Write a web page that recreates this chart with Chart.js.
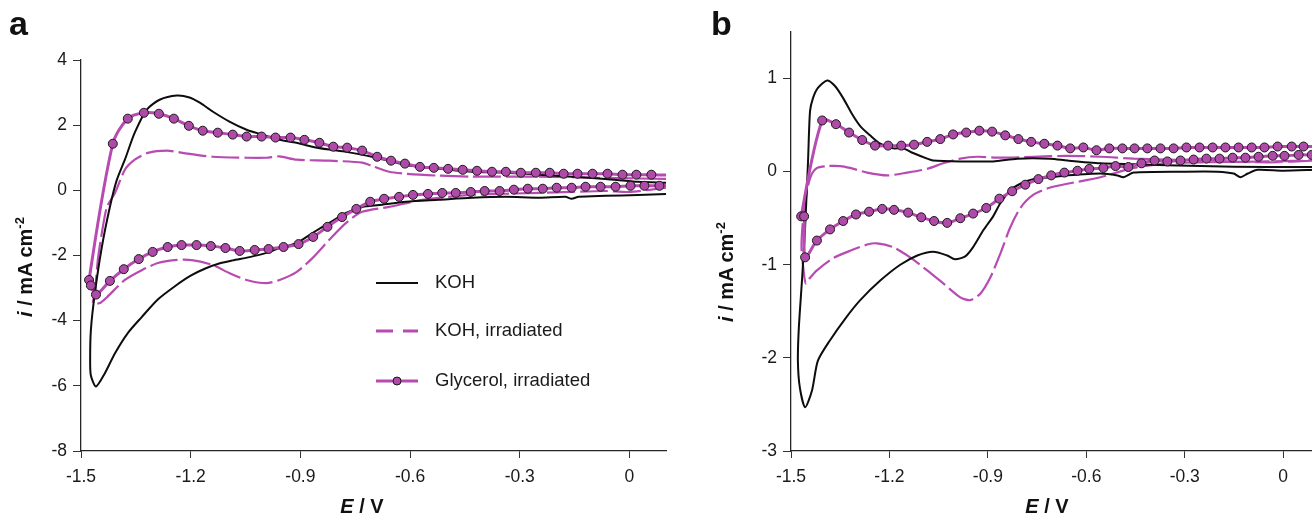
<!DOCTYPE html>
<html>
<head>
<meta charset="utf-8">
<title>Cyclic voltammograms</title>
<script src="https://cdn.jsdelivr.net/npm/chart.js@4.4.1/dist/chart.umd.min.js"></script>
<style>
    html, body { margin: 0; padding: 0; background: #fff; overflow: hidden; }
    body { width: 1312px; height: 515px; position: relative; font-family: "Liberation Sans", Arial, sans-serif; color: #111; }
    .panel { position: absolute; top: 0; height: 515px; }
    #wrapA { left: 0; width: 690px; }
    #wrapB { left: 700px; width: 640px; }
    .tag { position: absolute; font-weight: bold; font-size: 34px; line-height: 1; }
    .ytitle, .xtitle { position: absolute; font-weight: bold; font-size: 20px; line-height: 1; white-space: nowrap; }
    .ytitle { transform: translate(-50%, -50%) rotate(-90deg); }
    .xtitle { transform: translate(-50%, -50%); }
    sup { font-size: 13px; line-height: 0; vertical-align: 8px; }
</style>
</head>
<body>
<div class="panel" id="wrapA"><canvas id="chartA" width="690" height="515"></canvas></div>
<div class="panel" id="wrapB"><canvas id="chartB" width="640" height="515"></canvas></div>

<div class="tag" style="left:9px; top:6px;">a</div>
<div class="tag" style="left:711px; top:6px;">b</div>
<div class="ytitle" style="left:25px; top:267px;"><i>i</i> / mA cm<sup>-2</sup></div>
<div class="ytitle" style="left:726px; top:272px;"><i>i</i> / mA cm<sup>-2</sup></div>
<div class="xtitle" style="left:362px; top:506px;"><i>E</i> / V</div>
<div class="xtitle" style="left:1047px; top:506px;"><i>E</i> / V</div>

<script>
// CV curves, [E (V), i (mA cm-2)] in sweep order

// panel a
const kohA = [
    [0.1, 0.23], [0.024, 0.26], [-0.066, 0.35], [-0.158, 0.42], [-0.248, 0.48], [-0.338, 0.54],
    [-0.431, 0.57], [-0.521, 0.66], [-0.611, 0.78], [-0.704, 1.03], [-0.775, 1.18], [-0.821, 1.25],
    [-0.867, 1.34], [-0.911, 1.46], [-0.957, 1.55], [-1.004, 1.71], [-1.047, 1.86], [-1.094, 2.11],
    [-1.140, 2.42], [-1.175, 2.69], [-1.203, 2.85], [-1.238, 2.91], [-1.285, 2.78], [-1.320, 2.48],
    [-1.353, 1.77], [-1.380, 0.94], [-1.402, 0.32], [-1.421, -0.51], [-1.443, -1.74], [-1.462, -3.15],
    [-1.473, -4.29], [-1.475, -5.22], [-1.473, -5.68], [-1.459, -6.02], [-1.435, -5.62], [-1.407, -5.00],
    [-1.372, -4.38], [-1.334, -3.89], [-1.290, -3.35], [-1.244, -2.95], [-1.200, -2.62], [-1.160, -2.40],
    [-1.120, -2.24], [-1.085, -2.15], [-1.039, -2.05], [-0.993, -1.92], [-0.957, -1.77], [-0.911, -1.62],
    [-0.867, -1.31], [-0.821, -1.00], [-0.775, -0.69], [-0.731, -0.51], [-0.685, -0.45], [-0.611, -0.35],
    [-0.521, -0.29], [-0.431, -0.23], [-0.338, -0.20], [-0.248, -0.23], [-0.175, -0.20], [-0.158, -0.26],
    [-0.139, -0.20], [-0.066, -0.17], [0.024, -0.14], [0.1, -0.11]
];
const kohIrrA = [
    [0.1, 0.35], [-0.066, 0.38], [-0.248, 0.42], [-0.431, 0.42], [-0.521, 0.45], [-0.611, 0.51],
    [-0.657, 0.57], [-0.704, 0.75], [-0.731, 0.85], [-0.821, 0.91], [-0.911, 0.94], [-0.957, 1.04],
    [-0.993, 1.00], [-1.047, 1.00], [-1.140, 1.03], [-1.222, 1.15], [-1.265, 1.22], [-1.317, 1.15],
    [-1.353, 0.94], [-1.380, 0.63], [-1.407, -0.08], [-1.429, -0.51], [-1.443, -1.31], [-1.454, -2.14],
    [-1.462, -3.15], [-1.467, -3.46], [-1.448, -3.46], [-1.429, -3.28], [-1.380, -2.75], [-1.334, -2.45],
    [-1.290, -2.23], [-1.244, -2.14], [-1.197, -2.14], [-1.140, -2.29], [-1.094, -2.54], [-1.047, -2.75],
    [-0.993, -2.85], [-0.957, -2.75], [-0.911, -2.51], [-0.867, -2.08], [-0.821, -1.52], [-0.775, -1.00],
    [-0.731, -0.66], [-0.657, -0.51], [-0.567, -0.29], [-0.431, -0.14], [-0.248, -0.08], [-0.066, -0.02],
    [-0.003, -0.05], [0.1, 0.08]
];
const glyA = [
    [0.1, 0.47],
    [0.060, 0.48], [0.019, 0.48], [-0.019, 0.48], [-0.060, 0.51], [-0.101, 0.51], [-0.142, 0.51],
    [-0.180, 0.51], [-0.218, 0.54], [-0.256, 0.54], [-0.297, 0.54], [-0.338, 0.57], [-0.376, 0.57],
    [-0.417, 0.60], [-0.456, 0.63], [-0.496, 0.66], [-0.535, 0.69], [-0.573, 0.72], [-0.614, 0.82],
    [-0.652, 0.91], [-0.690, 1.03], [-0.731, 1.22], [-0.772, 1.31], [-0.810, 1.34], [-0.848, 1.46],
    [-0.889, 1.55], [-0.927, 1.62], [-0.968, 1.62], [-1.006, 1.65], [-1.047, 1.65], [-1.085, 1.71],
    [-1.126, 1.77], [-1.167, 1.83], [-1.205, 1.98], [-1.246, 2.20], [-1.287, 2.35], [-1.328, 2.38],
    [-1.372, 2.20], [-1.413, 1.43],
    [-1.478, -2.75], [-1.473, -2.92], [-1.459, -3.20],
    [-1.421, -2.78], [-1.383, -2.42], [-1.342, -2.11], [-1.304, -1.89], [-1.263, -1.74], [-1.225, -1.68],
    [-1.184, -1.68], [-1.145, -1.71], [-1.105, -1.77], [-1.066, -1.86], [-1.025, -1.83], [-0.987, -1.80],
    [-0.946, -1.74], [-0.905, -1.65], [-0.865, -1.43], [-0.826, -1.12], [-0.786, -0.82], [-0.747, -0.57],
    [-0.709, -0.35], [-0.671, -0.26], [-0.630, -0.20], [-0.592, -0.14], [-0.551, -0.11], [-0.512, -0.08],
    [-0.475, -0.08], [-0.434, -0.05], [-0.396, -0.02], [-0.355, -0.02], [-0.316, 0.02], [-0.278, 0.05],
    [-0.237, 0.05], [-0.199, 0.08], [-0.158, 0.08], [-0.120, 0.11], [-0.079, 0.11], [-0.038, 0.11],
    [0.003, 0.14], [0.041, 0.14], [0.082, 0.14],
    [0.1, 0.15]
];

// panel b
const kohB = [
    [0.1, 0.05], [-0.047, 0.05], [-0.252, 0.06], [-0.456, 0.08], [-0.557, 0.09], [-0.658, 0.12],
    [-0.710, 0.14], [-0.810, 0.14], [-0.884, 0.11], [-0.984, 0.11], [-1.067, 0.12], [-1.085, 0.14],
    [-1.128, 0.20], [-1.158, 0.25], [-1.189, 0.25], [-1.228, 0.30], [-1.259, 0.39], [-1.289, 0.49],
    [-1.314, 0.62], [-1.341, 0.79], [-1.366, 0.92], [-1.390, 0.98], [-1.418, 0.90], [-1.433, 0.79],
    [-1.442, 0.65], [-1.448, 0.12], [-1.457, -0.60], [-1.466, -1.14], [-1.476, -1.67], [-1.479, -2.03],
    [-1.473, -2.32], [-1.457, -2.53], [-1.436, -2.35], [-1.418, -2.03], [-1.381, -1.81], [-1.335, -1.58],
    [-1.289, -1.38], [-1.228, -1.17], [-1.167, -1.00], [-1.115, -0.90], [-1.067, -0.86], [-1.024, -0.90],
    [-1.000, -0.94], [-0.969, -0.91], [-0.945, -0.81], [-0.914, -0.63], [-0.902, -0.57], [-0.884, -0.48],
    [-0.862, -0.34], [-0.832, -0.20], [-0.801, -0.13], [-0.762, -0.08], [-0.710, -0.06], [-0.658, -0.04],
    [-0.557, -0.02], [-0.505, -0.04], [-0.487, -0.06], [-0.456, -0.01], [-0.304, 0.00], [-0.200, 0.00],
    [-0.151, -0.02], [-0.130, -0.06], [-0.108, -0.02], [-0.078, 0.02], [0.000, 0.01], [0.1, 0.02]
];
const kohIrrB = [
    [0.1, 0.12], [-0.047, 0.10], [-0.252, 0.12], [-0.353, 0.13], [-0.456, 0.14], [-0.557, 0.16],
    [-0.658, 0.17], [-0.762, 0.16], [-0.862, 0.15], [-0.932, 0.16], [-0.984, 0.14], [-1.036, 0.09],
    [-1.085, 0.03], [-1.146, -0.01], [-1.207, -0.04], [-1.268, -0.01], [-1.320, 0.04], [-1.350, 0.06],
    [-1.390, 0.06], [-1.421, 0.04], [-1.436, -0.02], [-1.448, -0.15], [-1.462, -0.47], [-1.468, -0.80],
    [-1.462, -1.05], [-1.455, -1.20], [-1.442, -1.14], [-1.421, -1.06], [-1.372, -0.93], [-1.320, -0.85],
    [-1.265, -0.78], [-1.238, -0.77], [-1.189, -0.81], [-1.137, -0.92], [-1.085, -1.06], [-1.036, -1.20],
    [-0.984, -1.35], [-0.954, -1.38], [-0.923, -1.31], [-0.893, -1.14], [-0.862, -0.88], [-0.832, -0.60],
    [-0.801, -0.39], [-0.762, -0.25], [-0.710, -0.17], [-0.658, -0.13], [-0.557, -0.06], [-0.456, 0.04],
    [-0.353, 0.09], [-0.252, 0.10], [-0.047, 0.11], [0.1, 0.12]
];
const glyB = [
    [0.1, 0.27],
    [0.062, 0.27], [0.026, 0.27], [-0.017, 0.27], [-0.057, 0.26], [-0.096, 0.26], [-0.136, 0.26],
    [-0.176, 0.26], [-0.215, 0.26], [-0.255, 0.26], [-0.295, 0.26], [-0.334, 0.25], [-0.374, 0.25],
    [-0.414, 0.25], [-0.453, 0.25], [-0.490, 0.25], [-0.530, 0.25], [-0.569, 0.23], [-0.609, 0.26],
    [-0.649, 0.25], [-0.688, 0.28], [-0.728, 0.30], [-0.768, 0.32], [-0.807, 0.35], [-0.847, 0.39],
    [-0.887, 0.43], [-0.926, 0.44], [-0.966, 0.42], [-1.006, 0.40], [-1.045, 0.35], [-1.085, 0.32],
    [-1.125, 0.29], [-1.164, 0.28], [-1.204, 0.28], [-1.244, 0.28], [-1.283, 0.34], [-1.323, 0.42],
    [-1.363, 0.51], [-1.405, 0.55],
    [-1.469, -0.48], [-1.460, -0.48], [-1.457, -0.92],
    [-1.421, -0.74], [-1.381, -0.62], [-1.341, -0.53], [-1.302, -0.46], [-1.262, -0.43], [-1.222, -0.40],
    [-1.186, -0.41], [-1.143, -0.44], [-1.103, -0.49], [-1.064, -0.53], [-1.024, -0.55], [-0.984, -0.50],
    [-0.945, -0.45], [-0.905, -0.39], [-0.865, -0.29], [-0.826, -0.21], [-0.786, -0.14], [-0.746, -0.08],
    [-0.707, -0.04], [-0.667, -0.01], [-0.627, 0.01], [-0.591, 0.03], [-0.548, 0.04], [-0.511, 0.06],
    [-0.472, 0.05], [-0.432, 0.09], [-0.392, 0.12], [-0.353, 0.11], [-0.313, 0.12], [-0.273, 0.13],
    [-0.234, 0.14], [-0.194, 0.14], [-0.154, 0.15], [-0.115, 0.15], [-0.075, 0.16], [-0.032, 0.17],
    [0.004, 0.17], [0.047, 0.18], [0.087, 0.18],
    [0.1, 0.18]
];

// axes
const xTicks = [-1.5, -1.2, -0.9, -0.6, -0.3, 0];
const yTicksA = [-8, -6, -4, -2, 0, 2, 4];
const yTicksB = [-3, -2, -1, 0, 1];
const legendLabels = ['KOH', 'KOH, irradiated', 'Glycerol, irradiated'];

const MAGENTA = '#b84bb2';
const MARKER_FILL = '#b04aa8';
const FONT = '"Liberation Sans", Arial, sans-serif';

function toXY(pairs) {
    return pairs.map(p => ({ x: p[0], y: p[1] }));
}

function makeDatasets(koh, kohIrr, gly) {
    return [
        {
            label: legendLabels[2],
            data: toXY(gly),
            showLine: true,
            borderColor: MAGENTA,
            borderWidth: 3,
            tension: 0.3,
            pointRadius: c => (c.dataIndex === 0 || c.dataIndex === gly.length - 1) ? 0 : 4.5,
            pointBackgroundColor: MARKER_FILL,
            pointBorderColor: '#1a1a1a',
            pointBorderWidth: 1
        },
        {
            label: legendLabels[0],
            data: toXY(koh),
            showLine: true,
            borderColor: '#0d0d0d',
            borderWidth: 2,
            tension: 0.25,
            pointRadius: 0
        },
        {
            label: legendLabels[1],
            data: toXY(kohIrr),
            showLine: true,
            borderColor: MAGENTA,
            borderWidth: 2.2,
            borderDash: [28, 5],
            tension: 0.25,
            pointRadius: 0
        }
    ];
}

function makeOptions(ymin, ymax, yTicks, yAxisWidth, padding) {
    const tickFont = { family: FONT, size: 17.5 };
    return {
        responsive: false,
        devicePixelRatio: 1,
        animation: false,
        events: [],
        layout: { padding: padding },
        plugins: { legend: { display: false }, tooltip: { enabled: false } },
        scales: {
            x: {
                type: 'linear',
                min: -1.5,
                max: 0.1,
                afterBuildTicks: s => { s.ticks = xTicks.map(v => ({ value: v })); },
                afterFit: s => { s.height = 64; },
                grid: { drawOnChartArea: false, drawTicks: true, tickLength: 7, tickColor: '#333', tickWidth: 1 },
                border: { display: true, color: '#262626', width: 1.3 },
                ticks: {
                    color: '#1a1a1a', font: tickFont, padding: 9, maxRotation: 0, autoSkip: false,
                    callback: v => String(Math.round(v * 10) / 10)
                }
            },
            y: {
                type: 'linear',
                min: ymin,
                max: ymax,
                afterBuildTicks: s => { s.ticks = yTicks.map(v => ({ value: v })); },
                afterFit: s => { s.width = yAxisWidth; },
                grid: { drawOnChartArea: false, drawTicks: true, tickLength: 8, tickColor: '#333', tickWidth: 1 },
                border: { display: true, color: '#262626', width: 1.3 },
                ticks: {
                    color: '#1a1a1a', font: tickFont, padding: 6, autoSkip: false,
                    callback: v => String(v)
                }
            }
        }
    };
}

// legend drawn inside panel a
const cvLegend = {
    id: 'cvLegend',
    afterDraw(chart) {
        const ctx = chart.ctx;
        const rows = [283, 331, 381];
        ctx.save();
        ctx.lineCap = 'butt';
        // KOH
        ctx.strokeStyle = '#0d0d0d';
        ctx.lineWidth = 2;
        ctx.beginPath(); ctx.moveTo(376, rows[0]); ctx.lineTo(418, rows[0]); ctx.stroke();
        // KOH, irradiated
        ctx.strokeStyle = MAGENTA;
        ctx.lineWidth = 3;
        ctx.setLineDash([17, 10]);
        ctx.beginPath(); ctx.moveTo(376, rows[1]); ctx.lineTo(418, rows[1]); ctx.stroke();
        ctx.setLineDash([]);
        // Glycerol, irradiated
        ctx.lineWidth = 3;
        ctx.beginPath(); ctx.moveTo(376, rows[2]); ctx.lineTo(418, rows[2]); ctx.stroke();
        ctx.fillStyle = MARKER_FILL;
        ctx.strokeStyle = '#1a1a1a';
        ctx.lineWidth = 1;
        ctx.beginPath(); ctx.arc(397, rows[2], 4, 0, Math.PI * 2); ctx.fill(); ctx.stroke();
        // labels
        ctx.fillStyle = '#1a1a1a';
        ctx.font = '18.5px ' + FONT;
        ctx.textBaseline = 'middle';
        ctx.textAlign = 'left';
        legendLabels.forEach((t, i) => ctx.fillText(t, 435, rows[i]));
        ctx.restore();
    }
};

new Chart(document.getElementById('chartA'), {
    type: 'scatter',
    data: { datasets: makeDatasets(kohA, kohIrrA, glyA) },
    options: makeOptions(-8, 4, yTicksA, 81, { left: 0, top: 60, right: 24, bottom: 0 }),
    plugins: [cvLegend]
});

new Chart(document.getElementById('chartB'), {
    type: 'scatter',
    data: { datasets: makeDatasets(kohB, kohIrrB, glyB) },
    options: makeOptions(-3, 1.5, yTicksB, 91, { left: 0, top: 32, right: 24, bottom: 0 })
});
</script>
</body>
</html>
